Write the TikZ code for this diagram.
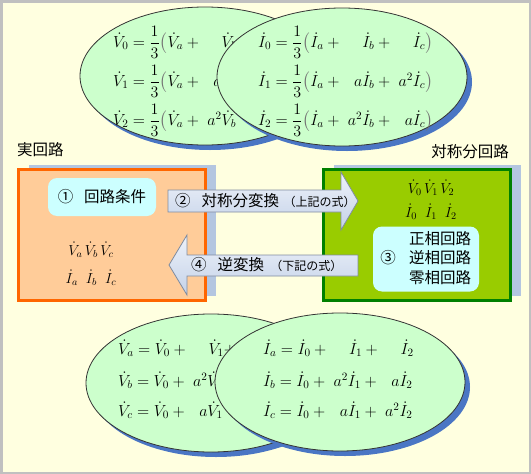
\RequirePackage{fix-cm}
\documentclass[tikz,border=0pt]{standalone}
\usepackage{amsmath}
\usepackage[no-math]{fontspec}
\newfontfamily\jpfont{Noto Sans CJK JP}
\usepackage{xcolor}
\usepackage{tikz}
\usetikzlibrary{shapes.geometric,shadows}
\definecolor{bgyellow}{RGB}{255,255,224}
\definecolor{framegray}{RGB}{192,192,192}
\definecolor{eqgreen}{RGB}{204,255,204}
\definecolor{eqshadow}{RGB}{74,118,196}
\definecolor{realfill}{RGB}{255,204,153}
\definecolor{realline}{RGB}{255,102,0}
\definecolor{symfill}{RGB}{153,204,0}
\definecolor{symline}{RGB}{0,128,0}
\definecolor{boxshade}{RGB}{180,198,224}
\definecolor{notecyan}{RGB}{204,255,255}
\definecolor{arrtop}{RGB}{238,242,250}
\definecolor{arrbot}{RGB}{196,210,232}
\definecolor{arrline}{RGB}{128,140,160}
\newcommand{\cf}[1]{\makebox[1.2em][r]{$#1$}}
\newcommand{\lp}{{\color{black!55}\bigl(}}
\newcommand{\rp}{{\color{black!55}\bigr)}}

\begin{document}
\begin{tikzpicture}[x=1pt,y=-1pt,
    ell/.style={ellipse, draw=black!80, fill=eqgreen, line width=0.8pt,
                inner sep=0pt, minimum width=250, minimum height=138,
                drop shadow={shadow xshift=5pt, shadow yshift=-5pt,
                             fill=eqshadow, opacity=1}},
    eq/.style={anchor=west, inner sep=0pt, font=\fontsize{16}{19}\selectfont},
    sym/.style={inner sep=0pt, font=\fontsize{14.5}{17}\selectfont},
    jp/.style={inner sep=0pt, font=\jpfont\fontsize{15.5}{19}\selectfont},
    circbox/.style={draw, line width=3pt, minimum width=187, minimum height=131,
                    drop shadow={shadow xshift=10pt, shadow yshift=5pt,
                                 fill=boxshade, opacity=1}},
    note/.style={fill=notecyan, rounded corners=9pt},
    blockarr/.style={draw=arrline, line width=0.8pt, top color=arrtop,
                     bottom color=arrbot}
  ]
    \useasboundingbox (0,0) rectangle (531,474);
    \fill[bgyellow] (0,0) rectangle (531,474);
    \draw[framegray, line width=2.5pt] (1.25,1.25) rectangle (529.75,472.75);

    \node[ell] (ellv) at (205,76) {};
    \node[eq] (eqv0) at (113,42)
      {$\dot V_0=\dfrac{1}{3}\lp\dot V_a+\cf{}\dot V_b$};
    \node[eq] (eqv1) at (113,81)
      {$\dot V_1=\dfrac{1}{3}\lp\dot V_a+\cf{a}\dot V_b$};
    \node[eq] (eqv2) at (113,120)
      {$\dot V_2=\dfrac{1}{3}\lp\dot V_a+\cf{a^2}\dot V_b$};
    \node[ell] (elli) at (342,77) {};
    \node[eq] (eqi0) at (258,42)
      {$\dot I_0=\dfrac{1}{3}\lp\dot I_a+\cf{}\dot I_b+\cf{}\dot I_c\rp$};
    \node[eq] (eqi1) at (258,81)
      {$\dot I_1=\dfrac{1}{3}\lp\dot I_a+\cf{a}\dot I_b+\cf{a^2}\dot I_c\rp$};
    \node[eq] (eqi2) at (258,120)
      {$\dot I_2=\dfrac{1}{3}\lp\dot I_a+\cf{a^2}\dot I_b+\cf{a}\dot I_c\rp$};

    \node[jp, anchor=west] (lreal) at (17,150) {実回路};
    \node[jp, anchor=east] (lsym) at (509,152) {対称分回路};

    \node[circbox, draw=realline, fill=realfill] (real) at (112,235) {};
    \node[circbox, draw=symline, fill=symfill] (symc) at (417,235) {};

    \node[note, minimum width=108, minimum height=38] (cond) at (102,197) {};
    \node[jp] (condt) at (cond) {①\hspace{0.7em}回路条件};
    \node[note, minimum width=106, minimum height=65] (seq) at (426,259) {};
    \node[jp] (seqn) at (388,258) {③};
    \node[jp, align=center, font=\jpfont\fontsize{15.5}{19.5}\selectfont] (seqt) at (440,258)
      {正相回路\\逆相回路\\零相回路};

    \node[sym] (vabc) at (91,250) {$\dot V_a\,\dot V_b\,\dot V_c$};
    \node[sym] (iabc) at (91,278) {$\dot I_a\;\;\dot I_b\;\;\dot I_c$};
    \node[sym] (v012) at (431,188) {$\dot V_0\,\dot V_1\,\dot V_2$};
    \node[sym] (i012) at (431,212) {$\dot I_0\;\;\dot I_1\;\;\dot I_2$};

    \draw[blockarr] (168,190) -- (341,190) -- (341,172) -- (358,201)
      -- (341,230) -- (341,212) -- (168,212) -- cycle;
    \node[jp, anchor=west] (fwd) at (175,201)
      {②\hspace{0.7em}対称分変換\hspace{0.3em}{\fontsize{12}{14}\selectfont （上記の式）}};
    \draw[blockarr] (358,255) -- (187,255) -- (187,235) -- (169,265)
      -- (187,295) -- (187,276) -- (358,276) -- cycle;
    \node[jp, anchor=west] (inv) at (191,265)
      {④\hspace{0.7em}逆変換\hspace{0.4em}{\fontsize{12}{14}\selectfont （下記の式）}};

    \node[ell] (ellvinv) at (211,383) {};
    \node[eq] (eqva) at (118,348)
      {$\dot V_a=\dot V_0+\cf{}\dot V_1+$};
    \node[eq] (eqvb) at (118,380)
      {$\dot V_b=\dot V_0+\cf{a^2}\dot V_1$};
    \node[eq] (eqvc) at (118,410)
      {$\dot V_c=\dot V_0+\cf{a}\dot V_1$};
    \node[ell] (elliinv) at (340,382) {};
    \node[eq] (eqia) at (263,348)
      {$\dot I_a=\dot I_0+\cf{}\dot I_1+\cf{}\dot I_2$};
    \node[eq] (eqib) at (263,380)
      {$\dot I_b=\dot I_0+\cf{a^2}\dot I_1+\cf{a}\dot I_2$};
    \node[eq] (eqic) at (263,410)
      {$\dot I_c=\dot I_0+\cf{a}\dot I_1+\cf{a^2}\dot I_2$};
  \end{tikzpicture}
\end{document}
